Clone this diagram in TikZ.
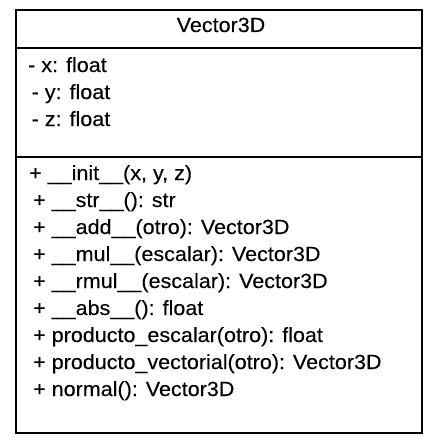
\documentclass[tikz,border=0pt]{standalone}
\usepackage{fontspec}
\setmainfont[FakeStretch=1.05,FakeBold=0.15]{Liberation Sans}
\begin{document}
\begin{tikzpicture}[x=1pt,y=-1pt,
  txt/.style={anchor=base west,inner sep=0pt,font=\fontsize{20.5}{23}\selectfont},
  ttl/.style={anchor=base,inner sep=0pt,font=\fontsize{20.5}{23}\selectfont},
  frame/.style={draw=black,line width=1.1pt}]
\useasboundingbox (0,0) rectangle (442,444);
\fill[white] (0,0) rectangle (442,444);
\coordinate (tl) at (16,10);
\coordinate (br) at (422,433);
\coordinate (d1l) at (16,48);
\coordinate (d1r) at (422,48);
\coordinate (d2l) at (16,157);
\coordinate (d2r) at (422,157);
\draw[frame] (tl) rectangle (br);
\draw[frame] (d1l) -- (d1r);
\draw[frame] (d2l) -- (d2r);
\node[ttl] (title) at (221,32) {Vector3D};
\node[txt] (ax) at (28,72) {- x: float};
\node[txt] (ay) at (31.5,99) {- y: float};
\node[txt] (az) at (31.5,126) {- z: float};
\node[txt] (m1) at (29,180) {+ \_\_init\_\_(x, y, z)};
\node[txt] (m2) at (33,207) {+ \_\_str\_\_(): str};
\node[txt] (m3) at (33,234) {+ \_\_add\_\_(otro): Vector3D};
\node[txt] (m4) at (33,261) {+ \_\_mul\_\_(escalar): Vector3D};
\node[txt] (m5) at (33,288) {+ \_\_rmul\_\_(escalar): Vector3D};
\node[txt] (m6) at (33,315) {+ \_\_abs\_\_(): float};
\node[txt] (m7) at (33,342) {+ producto\_escalar(otro): float};
\node[txt] (m8) at (33,369) {+ producto\_vectorial(otro): Vector3D};
\node[txt] (m9) at (33,396) {+ normal(): Vector3D};
\end{tikzpicture}
\end{document}
